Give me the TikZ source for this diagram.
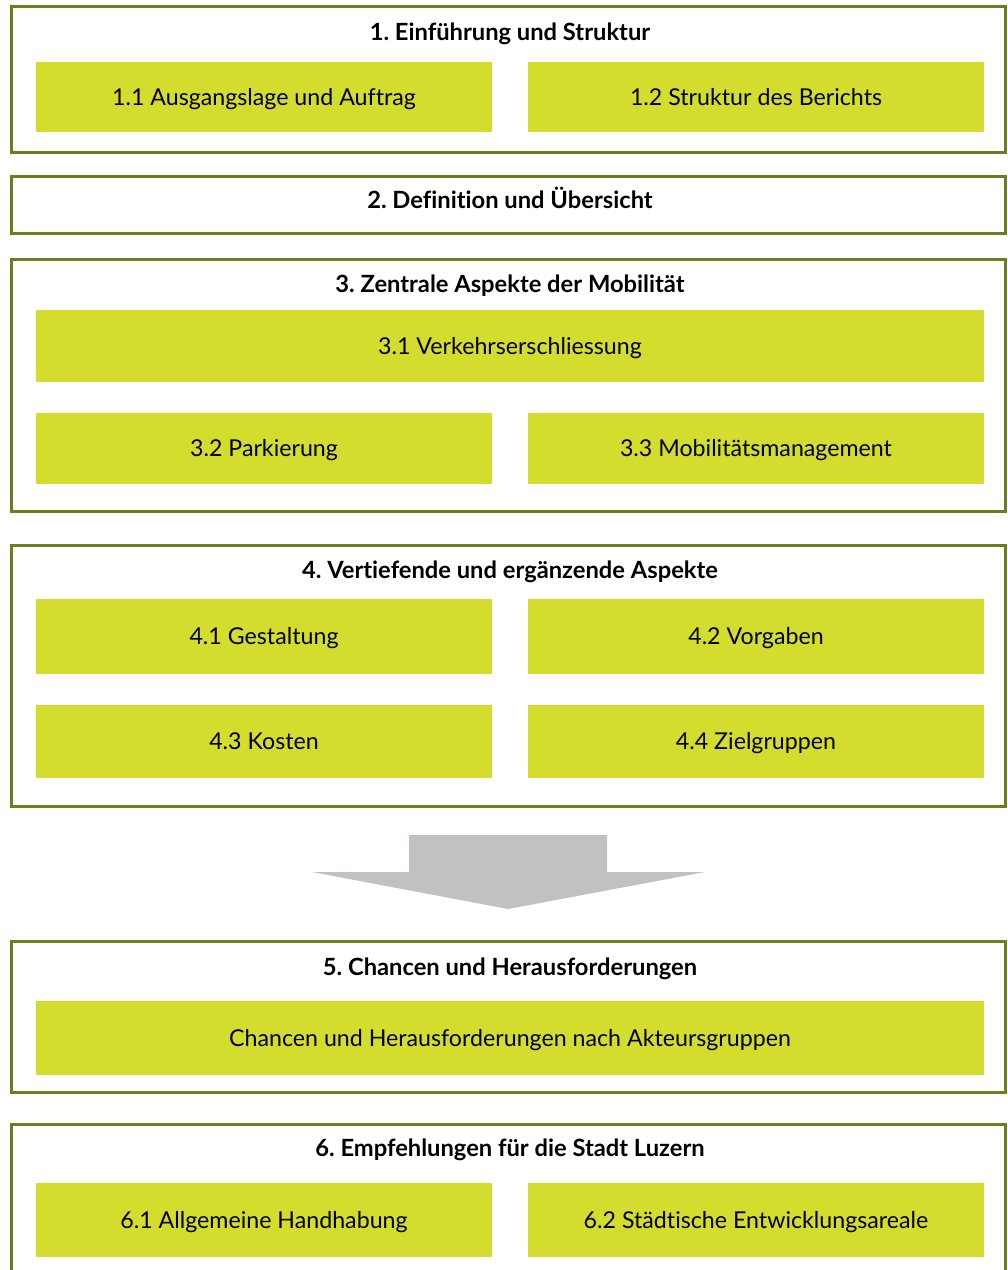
\documentclass[tikz,border=0pt]{standalone}
\usepackage{fontspec}
\setmainfont{Lato}[Ligatures=CommonOff]
\usetikzlibrary{positioning}

\begin{document}
\frenchspacing
\begin{tikzpicture}[
    frame/.style={draw=frameolive, line width=0.06cm, fill=white, inner sep=0pt},
    tile/.style={fill=tilegreen, inner sep=0pt, minimum height=1.44cm, text height=2.1ex, text depth=0.3ex,
        font=\fontsize{13.2}{16}\selectfont},
    half/.style={tile, minimum width=9.12cm},
    full/.style={tile, minimum width=18.96cm},
    title/.style={font=\fontsize{13.5}{16}\selectfont\bfseries, inner sep=0pt, text height=2.1ex, text depth=0.3ex}
]
    \definecolor{tilegreen}{rgb}{0.831,0.867,0.180}
    \definecolor{frameolive}{rgb}{0.439,0.478,0.118}
    \definecolor{arrowgray}{rgb}{0.753,0.761,0.753}
    \useasboundingbox (0,0) rectangle (20.14,-25.40);
    \clip (0,0) rectangle (20.14,-25.40);
    % First block
    \node[frame, minimum width=19.87cm, minimum height=2.92cm] (b1) at (10.165,-1.58) {};
    \node[title] (t1) at (10.20,-0.64) {1. Einführung und Struktur};
    \node[half, minimum height=1.40cm] (s11) at (5.28,-1.94) {1.1 Ausgangslage und Auftrag};
    \node[half, minimum height=1.40cm] (s12) at (15.12,-1.94) {1.2 Struktur des Berichts};
    % Second block
    \node[frame, minimum width=19.87cm, minimum height=1.14cm] (b2) at (10.165,-4.09) {};
    \node[title] (t2) at (10.20,-4.00) {2. Definition und Übersicht};
    % Third block
    \node[frame, minimum width=19.87cm, minimum height=5.04cm] (b3) at (10.165,-7.70) {};
    \node[title] (t3) at (10.20,-5.68) {3. Zentrale Aspekte der Mobilität};
    \node[full] (s31) at (10.20,-6.92) {3.1 Verkehrserschliessung};
    \node[half, minimum height=1.42cm] (s32) at (5.28,-8.97) {3.2 Parkierung};
    \node[half, minimum height=1.42cm] (s33) at (15.12,-8.97) {3.3 Mobilitätsmanagement};
    % Fourth block
    \node[frame, minimum width=19.87cm, minimum height=5.22cm] (b4) at (10.165,-13.51) {};
    \node[title] (t4) at (10.20,-11.40) {4. Vertiefende und ergänzende Aspekte};
    \node[half, minimum height=1.50cm] (s41) at (5.28,-12.72) {4.1 Gestaltung};
    \node[half, minimum height=1.50cm] (s42) at (15.12,-12.72) {4.2 Vorgaben};
    \node[half, minimum height=1.46cm] (s43) at (5.28,-14.83) {4.3 Kosten};
    \node[half, minimum height=1.46cm] (s44) at (15.12,-14.83) {4.4 Zielgruppen};
    % Block arrow
    \fill[arrowgray] (8.18,-16.70) -- (12.14,-16.70) -- (12.14,-17.44) -- (14.10,-17.44)
        -- (10.16,-18.18) -- (6.24,-17.44) -- (8.18,-17.44) -- cycle;
    % Fifth block
    \node[frame, minimum width=19.87cm, minimum height=3.02cm] (b5) at (10.165,-20.33) {};
    \node[title] (t5) at (10.20,-19.34) {5. Chancen und Herausforderungen};
    \node[full, minimum height=1.48cm] (s51) at (10.20,-20.76) {Chancen und Herausforderungen nach Akteursgruppen};
    % Sixth block
    \node[frame, minimum width=19.87cm, minimum height=4cm, anchor=north] (b6) at (10.165,-22.46) {};
    \node[title] (t6) at (10.20,-22.96) {6. Empfehlungen für die Stadt Luzern};
    \node[half, minimum height=1.48cm] (s61) at (5.28,-24.40) {6.1 Allgemeine Handhabung};
    \node[half, minimum height=1.48cm] (s62) at (15.12,-24.40) {6.2 Städtische Entwicklungsareale};
\end{tikzpicture}
\end{document}
